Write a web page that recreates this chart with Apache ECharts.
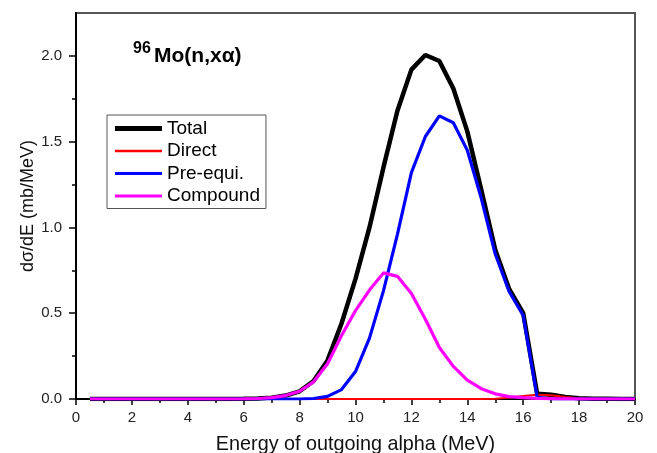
<!DOCTYPE html>
<html>
<head>
<meta charset="utf-8">
<script src="https://cdn.jsdelivr.net/npm/echarts@6/dist/echarts.min.js"></script>
<style>
html,body{margin:0;padding:0;background:#fff;}
#c{width:657px;height:453px;}
</style>
</head>
<body>
<div id="c"></div>
<script>
// Energy grid (MeV)
const energy = [0.5,1,1.5,2,2.5,3,3.5,4,4.5,5,5.5,6,6.5,7,7.5,8,8.5,9,9.5,10,10.5,11,11.5,12,12.5,13,13.5,14,14.5,15,15.5,16,16.5,17,17.5,18,18.5,19,19.5,20];
const total    = [0,0,0,0,0,0,0,0,0,0,0,0.001,0.003,0.008,0.02,0.045,0.105,0.225,0.44,0.70,1.0,1.35,1.68,1.92,2.005,1.97,1.81,1.56,1.22,0.87,0.64,0.50,0.03,0.025,0.012,0.005,0.002,0.001,0,0];
const direct   = [0,0,0,0,0,0,0,0,0,0,0,0,0,0,0,0,0,0,0,0,0,0,0,0,0,0,0,0,0,0.002,0.008,0.018,0.025,0.022,0.012,0.005,0.002,0.001,0,0];
const preequi  = [0,0,0,0,0,0,0,0,0,0,0,0,0,0,0,0,0.003,0.015,0.055,0.16,0.355,0.63,0.96,1.32,1.53,1.65,1.61,1.45,1.17,0.845,0.625,0.487,0.01,0,0,0,0,0,0,0];
const compound = [0,0,0,0,0,0,0,0,0,0,0,0.001,0.003,0.008,0.02,0.045,0.10,0.205,0.37,0.515,0.635,0.735,0.715,0.615,0.465,0.30,0.19,0.11,0.06,0.03,0.014,0.008,0.004,0.002,0.001,0,0,0,0,0];
const yMajorTicks = [0,0.5,1.0,1.5,2.0];
const yMinorTicks = [0.25,0.75,1.25,1.75];

const pairs = arr => energy.map((e,i)=>[e,arr[i]]);
const font = 'Arial, "Liberation Sans", sans-serif';
// legend line icons (invisible corner points keep the bar at its real thickness)
const bar = h => 'path://M0,0L0.01,0M0,' + (7-h/2) + 'L47,' + (7-h/2) + 'L47,' + (7+h/2) + 'L0,' + (7+h/2) + 'ZM46.99,14L47,14';

const chart = echarts.init(document.getElementById('c'), null, {renderer:'canvas'});
chart.setOption({
  animation:false,
  backgroundColor:'#fff',
  grid:{left:76,right:22,top:13,bottom:54,show:true,borderColor:'#555',borderWidth:2,backgroundColor:'transparent',outerBoundsMode:'none',containLabel:false},
  legend:{
    orient:'vertical', left:107, top:115,
    padding:[4,6,3,8], itemGap:3.5, itemWidth:47, itemHeight:14,
    borderColor:'#555', borderWidth:1, backgroundColor:'#fff',
    textStyle:{fontFamily:font,fontSize:19,color:'#000'},
    data:[
      {name:'Total', icon:bar(5), itemStyle:{color:'#000'}},
      {name:'Direct', icon:bar(2.5), itemStyle:{color:'#ff0000'}},
      {name:'Pre-equi.', icon:bar(3.2), itemStyle:{color:'#0000ff'}},
      {name:'Compound', icon:bar(3.2), itemStyle:{color:'#ff00ff'}}
    ]
  },
  xAxis:{
    type:'value', min:0, max:20, interval:2,
    name:'Energy of outgoing alpha (MeV)', nameLocation:'middle', nameGap:36, nameMoveOverlap:false,
    nameTextStyle:{fontFamily:font,fontSize:19.8,color:'#111'},
    axisLine:{show:true,onZero:false,lineStyle:{color:'#000',width:2}},
    axisTick:{show:true,inside:false,length:6,lineStyle:{color:'#000',width:1.5}},
    minorTick:{show:true,splitNumber:2,length:4,lineStyle:{color:'#000',width:1.5}},
    axisLabel:{fontFamily:font,fontSize:15,color:'#222',margin:11},
    splitLine:{show:false}, minorSplitLine:{show:false}
  },
  yAxis:[{
    type:'value', min:0, max:2.25,
    name:'dσ/dE (mb/MeV)', nameLocation:'middle', nameGap:39, nameMoveOverlap:false,
    nameTextStyle:{fontFamily:font,fontSize:18,color:'#111'},
    axisLine:{show:true,onZero:false,lineStyle:{color:'#000',width:2}},
    axisTick:{show:true,inside:false,length:7,customValues:yMajorTicks,lineStyle:{color:'#000',width:1.5}},
    axisLabel:{fontFamily:font,fontSize:15,color:'#222',margin:14,customValues:yMajorTicks,formatter:v=>v.toFixed(1)},
    splitLine:{show:false}
  },{
    type:'value', min:0, max:2.25, position:'left',
    axisLine:{show:false},
    axisTick:{show:true,inside:false,length:4,customValues:yMinorTicks,lineStyle:{color:'#000',width:1.5}},
    axisLabel:{show:false},
    splitLine:{show:false}
  }],
  graphic:[
    {type:'text',left:133,top:41,style:{text:'96',fontFamily:font,fontSize:16,fontWeight:'bold',fill:'#000'}},
    {type:'text',left:154,top:46,style:{text:'Mo(n,xα)',fontFamily:font,fontSize:21,fontWeight:'bold',fill:'#000'}}
  ],
  series:[
    {name:'Total',type:'line',symbol:'none',data:pairs(total),lineStyle:{color:'#000',width:4.5},itemStyle:{color:'#000'}},
    {name:'Direct',type:'line',symbol:'none',data:pairs(direct),lineStyle:{color:'#ff0000',width:2},itemStyle:{color:'#ff0000'}},
    {name:'Pre-equi.',type:'line',symbol:'none',data:pairs(preequi),lineStyle:{color:'#0000ff',width:3.2},itemStyle:{color:'#0000ff'}},
    {name:'Compound',type:'line',symbol:'none',data:pairs(compound),lineStyle:{color:'#ff00ff',width:3.2},itemStyle:{color:'#ff00ff'}}
  ]
});
</script>
</body>
</html>
